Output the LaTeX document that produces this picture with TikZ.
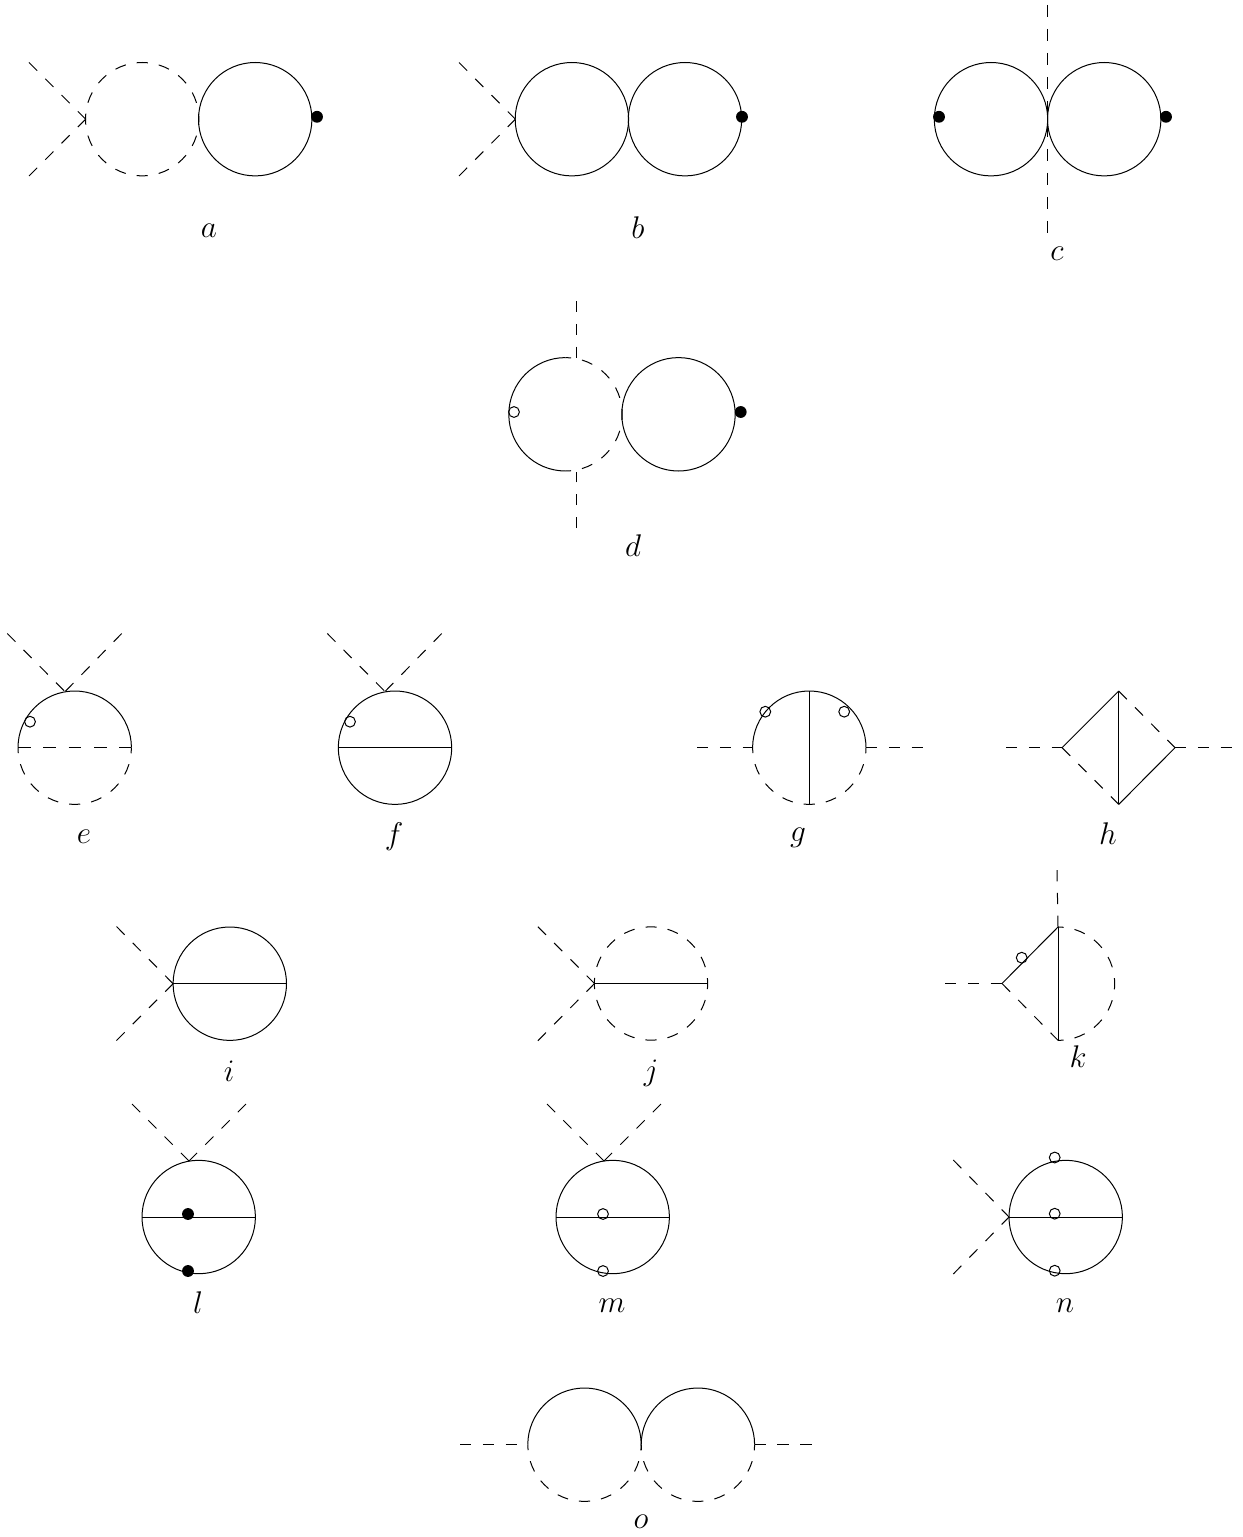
\RequirePackage{fix-cm}
\documentclass[tikz,border=0pt]{standalone}
\tikzset{
  prop/.style={line width=0.75pt,black},
  circdash/.style={prop,dash pattern=on 8.35pt off 8.35pt,dash phase=4.175pt},
  dthree/.style={prop,dash pattern=on 8.55pt off 8.55pt},
  dfour/.style={prop,dash pattern=on 8.64pt off 8.64pt},
  dfive/.style={prop,dash pattern=on 9.5pt off 9.5pt},
  dten/.style={prop,dash pattern=on 9pt off 9pt},
  blob/.style={circle,fill=black,draw=none,minimum size=8.9pt,inner sep=0pt},
  hollow/.style={circle,draw=black,line width=0.75pt,fill=none,minimum size=8.1pt,inner sep=0pt},
  lab/.style={inner sep=0pt,font=\fontsize{23.5}{28}\selectfont},
}
\def\R{56.7}
\begin{document}
\begin{tikzpicture}[x=0.75pt,y=-0.75pt]
\useasboundingbox (0,0) rectangle (1242,1537);
% a
\coordinate (a1) at (29,62.5); \coordinate (a2) at (29,176); \coordinate (av) at (85.7,119.2);
\coordinate (ac1) at (142.2,119.2); \coordinate (ac2) at (255.2,119.2);
\draw[dfour] (a1) -- (av); \draw[dfour] (a2) -- (av);
\draw[circdash] (ac1) circle[radius=\R];
\draw[prop] (ac2) circle[radius=\R];
\node[blob] (ad) at (317,116.8) {};
\node[lab] (al) at (209,231) {$a$};
% b
\coordinate (b1) at (459,62.5); \coordinate (b2) at (459,176); \coordinate (bv) at (515.4,119.2);
\coordinate (bc1) at (571.9,119.2); \coordinate (bc2) at (685,119.2);
\draw[dfour] (b1) -- (bv); \draw[dfour] (b2) -- (bv);
\draw[prop] (bc1) circle[radius=\R];
\draw[prop] (bc2) circle[radius=\R];
\node[blob] (bd) at (742,116.8) {};
\node[lab] (bl) at (638,228) {$b$};
% c
\coordinate (c1) at (1047.5,5); \coordinate (c2) at (1047.5,233);
\coordinate (cc1) at (991,119.2); \coordinate (cc2) at (1104.2,119.2);
\draw[dten] (c1) -- (c2);
\draw[prop] (cc1) circle[radius=\R];
\draw[prop] (cc2) circle[radius=\R];
\node[blob] (cd1) at (939,116.8) {};
\node[blob] (cd2) at (1166,116.8) {};
\node[lab] (cl) at (1057,254) {$c$};
% d
\coordinate (dc1) at (565.5,414.3); \coordinate (dc2) at (678.5,414.3);
\coordinate (dt) at (565.5,357.6); \coordinate (db) at (565.5,471);
\coordinate (d1) at (576,301); \coordinate (d1e) at (576,357.5);
\coordinate (d2) at (576,528); \coordinate (d2e) at (576,471.5);
\draw[dthree] (d1) -- (d1e); \draw[dthree] (d2) -- (d2e);
\draw[prop] (db) arc[start angle=90,end angle=270,radius=\R];
\draw[circdash] (dt) arc[start angle=-90,end angle=90,radius=\R];
\draw[prop] (dc2) circle[radius=\R];
\node[hollow] (dh) at (514,412) {};
\node[blob] (dd) at (740.7,412) {};
\node[lab] (dl) at (633,546) {$d$};
% e
\coordinate (e1) at (7.3,633.5); \coordinate (e2) at (121.7,633.5); \coordinate (ev) at (65,691.7);
\coordinate (eL) at (18,747.7); \coordinate (eR) at (131.4,747.7);
\draw[dfour] (e1) -- (ev); \draw[dfour] (e2) -- (ev);
\draw[prop] (eL) arc[start angle=180,end angle=360,radius=\R];
\draw[circdash] (eR) arc[start angle=0,end angle=180,radius=\R];
\draw[dfive] (eL) -- (eR);
\node[hollow] (eh) at (30,721.7) {};
\node[lab] (el) at (84,837) {$e$};
% f
\coordinate (f1) at (327.3,633.5); \coordinate (f2) at (441.7,633.5); \coordinate (fv) at (385,691.5);
\coordinate (fc) at (395,747.7); \coordinate (fL) at (338.3,747.7); \coordinate (fR) at (451.7,747.7);
\draw[dfour] (f1) -- (fv); \draw[dfour] (f2) -- (fv);
\draw[prop] (fc) circle[radius=\R];
\draw[prop] (fL) -- (fR);
\node[hollow] (fh) at (350,721.7) {};
\node[lab] (fl) at (394,837) {$f$};
% g
\coordinate (g1) at (697,747.7); \coordinate (gL) at (752.6,747.7); \coordinate (gR) at (866,747.7);
\coordinate (g2) at (925,747.7); \coordinate (gt) at (809.3,691); \coordinate (gb) at (809.3,804.4);
\draw[dthree] (g1) -- (gL); \draw[dthree] (gR) -- (g2);
\draw[prop] (gL) arc[start angle=180,end angle=360,radius=\R];
\draw[circdash] (gR) arc[start angle=0,end angle=180,radius=\R];
\draw[prop] (gt) -- (gb);
\node[hollow] (gh1) at (765.3,711.7) {};
\node[hollow] (gh2) at (844.2,711.7) {};
\node[lab] (gl) at (798,838) {$g$};
% h
\coordinate (h1) at (1006,747.7); \coordinate (hL) at (1062,747.7); \coordinate (hR) at (1175,747.7);
\coordinate (h2) at (1234,747.7); \coordinate (ht) at (1118.7,691); \coordinate (hb) at (1118.7,804.4);
\draw[dthree] (h1) -- (hL); \draw[dthree] (hR) -- (h2);
\draw[prop] (hL) -- (ht); \draw[prop] (hb) -- (hR); \draw[prop] (ht) -- (hb);
\draw[dfour] (hL) -- (hb); \draw[dfour] (ht) -- (hR);
\node[lab] (hl) at (1108,834) {$h$};
% i
\coordinate (i1) at (116.5,926.5); \coordinate (i2) at (116.5,1040.5); \coordinate (iv) at (173.1,983.7);
\coordinate (ic) at (229.8,983.7); \coordinate (iR) at (286.5,983.7);
\draw[dfour] (i1) -- (iv); \draw[dfour] (i2) -- (iv);
\draw[prop] (ic) circle[radius=\R];
\draw[prop] (iv) -- (iR);
\node[lab] (il) at (229,1071) {$i$};
% j
\coordinate (j1) at (537.9,926.7); \coordinate (j2) at (537.9,1040.7); \coordinate (jv) at (594.5,983.5);
\coordinate (jc) at (651,983.5); \coordinate (jR) at (707.9,983.5);
\draw[dfour] (j1) -- (jv); \draw[dfour] (j2) -- (jv);
\draw[circdash] (jc) circle[radius=\R];
\draw[prop] (jv) -- (jR);
\node[lab] (jl) at (651,1073) {$j$};
% k
\coordinate (k1) at (945,983.5); \coordinate (kv) at (1002,983.5);
\coordinate (kt) at (1058,927); \coordinate (kb) at (1058,1040.3); \coordinate (k2) at (1057,870);
\draw[dthree] (k1) -- (kv); \draw[dthree] (k2) -- (kt);
\draw[prop] (kv) -- (kt); \draw[prop] (kt) -- (kb);
\draw[dfour] (kv) -- (kb);
\draw[circdash] (kt) arc[start angle=-90,end angle=90,radius=\R];
\node[hollow] (kh) at (1021.7,957.7) {};
\node[lab] (kl) at (1078,1057) {$k$};
% l
\coordinate (l1) at (132,1104); \coordinate (l2) at (246,1104); \coordinate (lv) at (189,1161);
\coordinate (lc) at (198.7,1217); \coordinate (lL) at (142,1217); \coordinate (lR) at (255.4,1217);
\draw[dfour] (l1) -- (lv); \draw[dfour] (l2) -- (lv);
\draw[prop] (lc) circle[radius=\R];
\draw[prop] (lL) -- (lR);
\node[blob] (ld1) at (188,1214) {};
\node[blob] (ld2) at (188,1271) {};
\node[lab] (ll) at (198,1303) {$l$};
% m
\coordinate (m1) at (547,1104); \coordinate (m2) at (661,1104); \coordinate (mv) at (604,1161);
\coordinate (mc) at (612.7,1217); \coordinate (mL) at (556,1217); \coordinate (mR) at (669.4,1217);
\draw[dfour] (m1) -- (mv); \draw[dfour] (m2) -- (mv);
\draw[prop] (mc) circle[radius=\R];
\draw[prop] (mL) -- (mR);
\node[hollow] (mh1) at (603,1214) {};
\node[hollow] (mh2) at (603,1271) {};
\node[lab] (ml) at (612,1306) {$m$};
% n
\coordinate (n1) at (953.3,1160); \coordinate (n2) at (953.3,1274); \coordinate (nv) at (1009,1217);
\coordinate (nc) at (1065.7,1217); \coordinate (nR) at (1122.4,1217);
\draw[dfour] (n1) -- (nv); \draw[dfour] (n2) -- (nv);
\draw[prop] (nc) circle[radius=\R];
\draw[prop] (nv) -- (nR);
\node[hollow] (nh1) at (1054.7,1157.5) {};
\node[hollow] (nh2) at (1054.7,1213.7) {};
\node[hollow] (nh3) at (1054.7,1270.7) {};
\node[lab] (nl) at (1065,1306) {$n$};
% o
\coordinate (o1) at (460,1444.7); \coordinate (o1e) at (518,1444.7);
\coordinate (oL) at (527.8,1444.7); \coordinate (oM) at (641.2,1444.7); \coordinate (oR) at (754.6,1444.7);
\coordinate (o2) at (813,1444.7);
\draw[dthree] (o1) -- (o1e); \draw[dthree] (oR) -- (o2);
\draw[prop] (oL) arc[start angle=180,end angle=360,radius=\R];
\draw[circdash] (oM) arc[start angle=0,end angle=180,radius=\R];
\draw[prop] (oM) arc[start angle=180,end angle=360,radius=\R];
\draw[circdash] (oR) arc[start angle=0,end angle=180,radius=\R];
\node[lab] (ol) at (641,1522) {$o$};
\end{tikzpicture}
\end{document}
